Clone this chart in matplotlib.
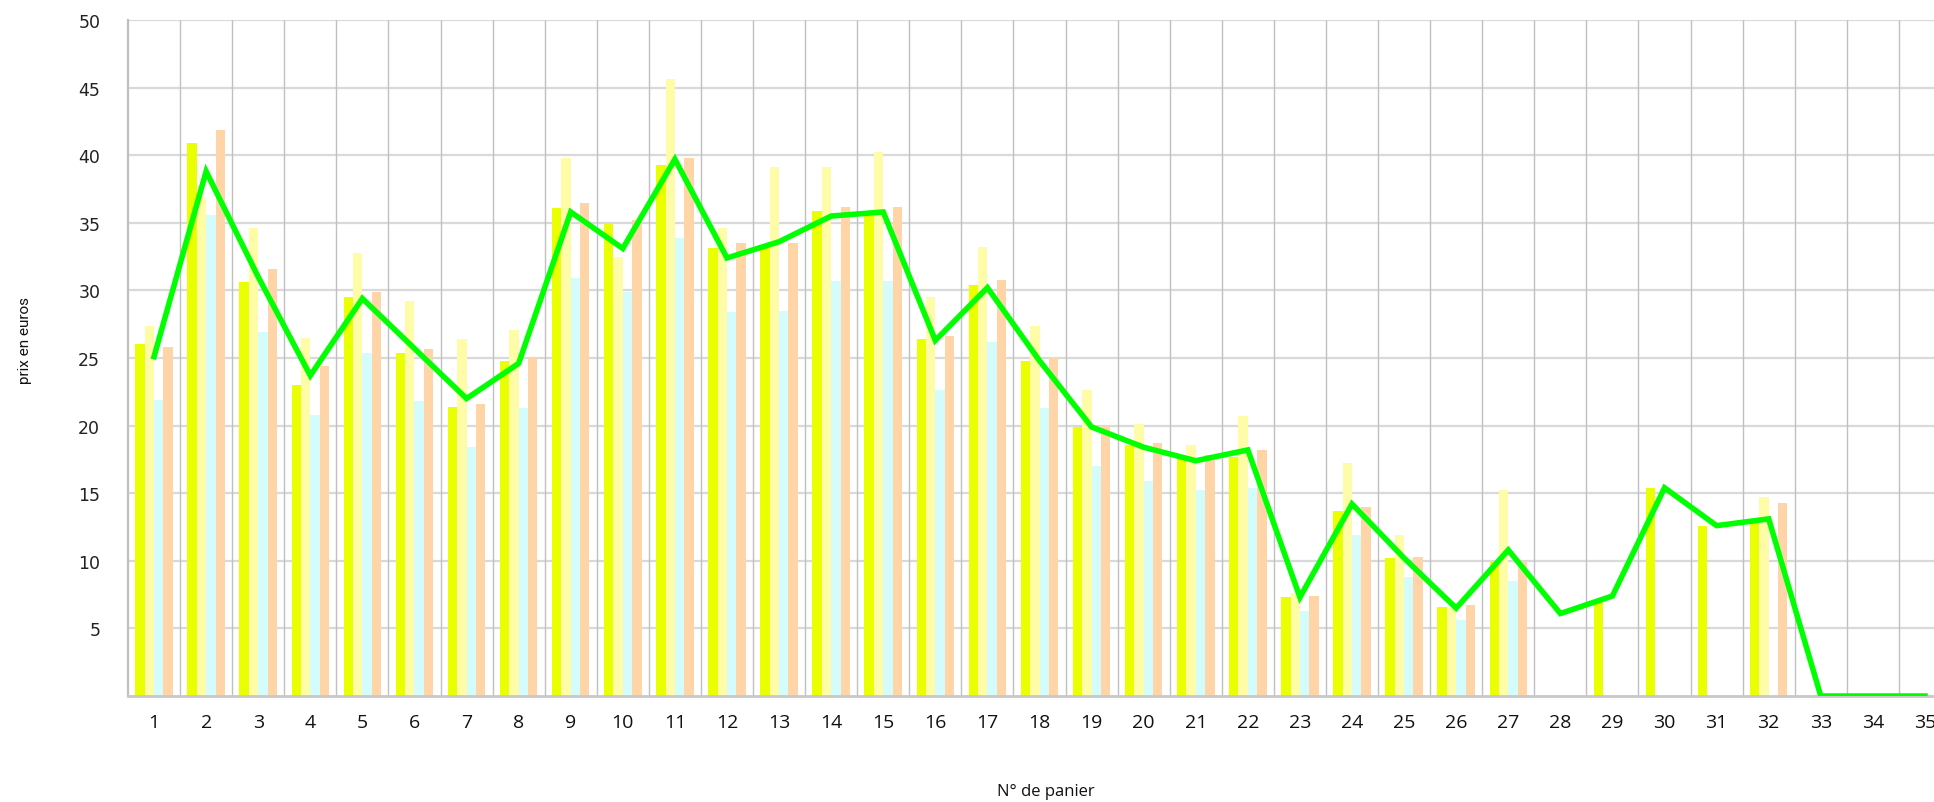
import numpy as np
import matplotlib
matplotlib.use("Agg")
import matplotlib.pyplot as plt

nan = np.nan
paniers = list(range(1, 36))
serie_a = [26.0, 40.9, 30.6, 23.0, 29.5, 25.4, 21.4, 24.8, 36.1, 34.9, 39.3, 33.1, 33.1, 35.9, 35.5,
           26.4, 30.4, 24.8, 19.9, 18.6, 17.6, 17.7, 7.3, 13.7, 10.2, 6.6, 9.9, nan, 7.2, 15.4,
           12.6, 12.8, nan, nan, nan]
serie_b = [27.4, 36.9, 34.6, 26.5, 32.8, 29.2, 26.4, 27.1, 39.8, 32.5, 45.6, 34.6, 39.1, 39.1, 40.2,
           29.5, 33.2, 27.4, 22.6, 20.1, 18.6, 20.7, 7.6, 17.2, 11.9, 6.5, 15.2, nan, nan, nan,
           nan, 14.7, nan, nan, nan]
serie_c = [21.9, 35.6, 26.9, 20.8, 25.4, 21.8, 18.4, 21.3, 30.9, 29.9, 33.9, 28.4, 28.5, 30.7, 30.7,
           22.6, 26.2, 21.3, 17.0, 15.9, 15.2, 15.4, 6.3, 11.9, 8.8, 5.6, 8.5, nan, nan, nan,
           nan, nan, nan, nan, nan]
serie_d = [25.8, 41.9, 31.6, 24.4, 29.9, 25.7, 21.6, 25.1, 36.5, 35.2, 39.8, 33.5, 33.5, 36.2, 36.2,
           26.6, 30.8, 25.1, 20.0, 18.7, 17.8, 18.2, 7.4, 14.0, 10.3, 6.7, 10.0, nan, nan, nan,
           nan, 14.3, nan, nan, nan]
moyenne = [25.1, 38.8, 31.0, 23.7, 29.4, 25.7, 22.0, 24.6, 35.8, 33.1, 39.7, 32.4, 33.6, 35.5, 35.8,
           26.3, 30.2, 24.8, 19.9, 18.4, 17.4, 18.2, 7.3, 14.2, 10.2, 6.5, 10.8, 6.1, 7.4, 15.4,
           12.6, 13.1, 0.0, 0.0, 0.0]
y_ticks = [5, 10, 15, 20, 25, 30, 35, 40, 45, 50]

colors = ["#EAFF00", "#FFFCA8", "#D4FCFC", "#FFD5A8"]
series = [serie_a, serie_b, serie_c, serie_d]

fig = plt.figure(figsize=(19.34, 8.03), dpi=100)
ax = fig.add_axes([128 / 1934, 106 / 803, 1823 / 1934, 676 / 803])

x = np.array(paniers, dtype=float)
bw = 0.18
offsets = [-1.5 * bw, -0.5 * bw, 0.5 * bw, 1.5 * bw]
for s, c, o in zip(series, colors, offsets):
    ax.bar(x + o, np.array(s, dtype=float), width=bw, color=c, zorder=2, linewidth=0)

ax.plot(x, moyenne, color="#00FF00", lw=4.0, zorder=4, solid_joinstyle="miter")

ax.set_xlim(0.5, 35.5)
ax.set_ylim(0, 50)
ax.set_yticks(y_ticks)
ax.set_xticks(paniers)
for yv in y_ticks:
    ax.axhline(yv, color="#D9D9D9", lw=1.6, zorder=1)
for b in np.arange(1.5, 35.5, 1.0):
    ax.axvline(b, color="#C0C0C0", lw=1.0, zorder=1)

for side in ["top", "right"]:
    ax.spines[side].set_visible(False)
ax.spines["left"].set_color("#BFBFBF")
ax.spines["left"].set_linewidth(1.6)
ax.spines["bottom"].set_color("#C8C8C8")
ax.spines["bottom"].set_linewidth(2.0)

ax.tick_params(axis="y", length=0, pad=20, labelsize=12.5, labelcolor="#222222")
ax.tick_params(axis="x", length=0, pad=12, labelsize=14, labelcolor="#111111")
for lab in ax.get_yticklabels():
    lab.set_fontfamily("DejaVu Sans")
for lab in ax.get_xticklabels():
    lab.set_fontfamily(["Open Sans", "DejaVu Sans"])

fig.text(25 / 1934, 1 - 340 / 803, "prix en euros", rotation=90, ha="center", va="center",
         fontsize=11, family=["Liberation Sans Narrow", "Roboto", "DejaVu Sans"], color="#111111",
         fontstretch="condensed")
fig.text(1046 / 1934, 1 - 792 / 803, "N° de panier", ha="center", va="center",
         fontsize=12, family=["Open Sans", "DejaVu Sans"], color="#111111")

fig.savefig("out.png", dpi=100)
